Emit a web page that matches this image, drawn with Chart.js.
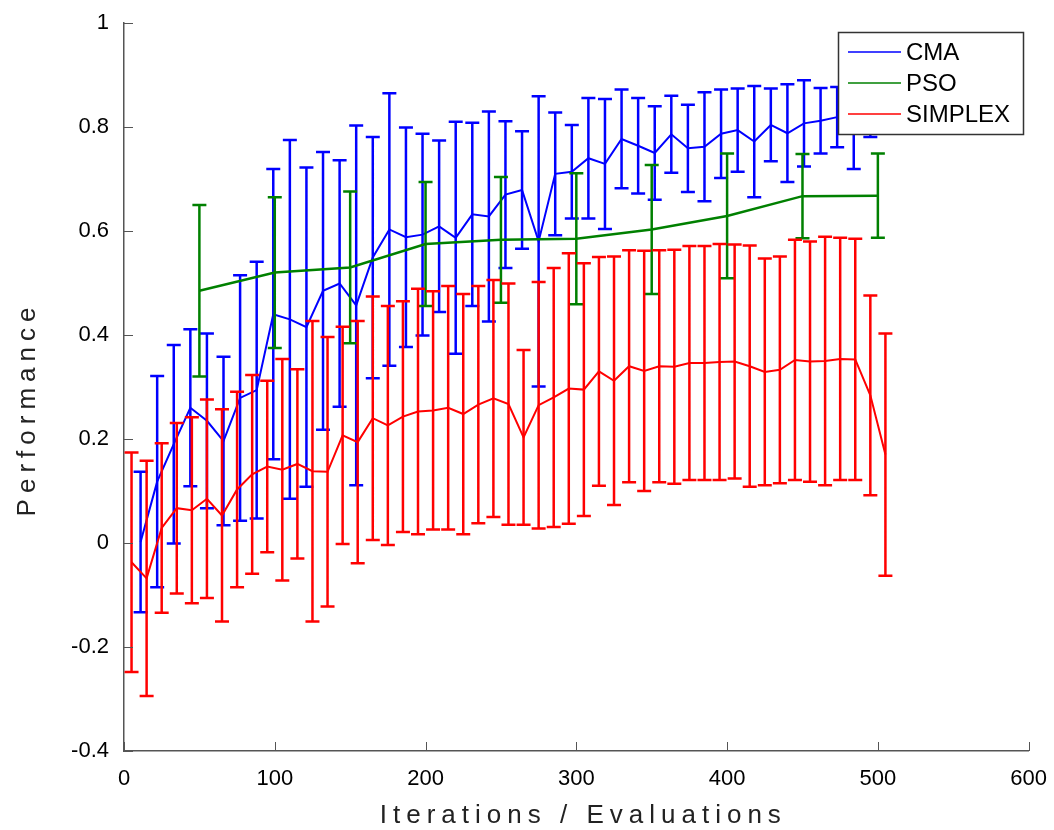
<!DOCTYPE html>
<html>
<head>
<meta charset="utf-8">
<title>Performance</title>
<script src="https://cdn.jsdelivr.net/npm/chart.js@4.4.1/dist/chart.umd.min.js"></script>
<style>
  html, body { margin: 0; padding: 0; background: #fff; }
</style>
</head>
<body>
<canvas id="perf" width="1054" height="830"></canvas>
<script>
/* Data */
const cmaX = [11, 22, 33, 44, 55, 66, 77, 88, 99, 110, 121, 132, 143, 154, 165, 176, 187, 198, 209, 220,
  231, 242, 253, 264, 275, 286, 297, 308, 319, 330, 341, 352, 363, 374, 385, 396, 407, 418, 429, 440,
  451, 462, 473, 484, 495];
const cmaMean = [0.002, 0.118, 0.19, 0.26, 0.235, 0.196, 0.279, 0.294, 0.44, 0.43,
  0.415, 0.485, 0.499, 0.457, 0.549, 0.603, 0.588, 0.593, 0.609, 0.587,
  0.632, 0.628, 0.67, 0.679, 0.58, 0.71, 0.714, 0.74, 0.729, 0.777,
  0.764, 0.75, 0.786, 0.759, 0.762, 0.787, 0.794, 0.772, 0.804, 0.788,
  0.807, 0.812, 0.819, 0.826, 0.835];
const cmaErr = [0.135, 0.203, 0.191, 0.151, 0.168, 0.162, 0.236, 0.247, 0.279, 0.345,
  0.307, 0.267, 0.237, 0.346, 0.232, 0.262, 0.211, 0.194, 0.165, 0.223,
  0.176, 0.202, 0.141, 0.113, 0.279, 0.118, 0.09, 0.116, 0.125, 0.095,
  0.092, 0.09, 0.074, 0.084, 0.105, 0.085, 0.08, 0.107, 0.07, 0.094,
  0.083, 0.063, 0.058, 0.107, 0.054];

const psoX = [50, 100, 150, 200, 250, 300, 350, 400, 450, 500];
const psoMean = [0.485, 0.52, 0.53, 0.575, 0.583, 0.585, 0.603, 0.629, 0.667, 0.668];
const psoErr = [0.165, 0.145, 0.146, 0.119, 0.121, 0.126, 0.124, 0.12, 0.081, 0.081];

const simplexX = [5, 15, 25, 35, 45, 55, 65, 75, 85, 95, 105, 115, 125, 135, 145, 155, 165, 175, 185, 195,
  205, 215, 225, 235, 245, 255, 265, 275, 285, 295, 305, 315, 325, 335, 345, 355, 365, 375, 385, 395,
  405, 415, 425, 435, 445, 455, 465, 475, 485, 495, 505];
const simplexMean = [-0.037, -0.068, 0.029, 0.067, 0.063, 0.085, 0.053, 0.103, 0.132, 0.147,
  0.141, 0.152, 0.138, 0.137, 0.207, 0.194, 0.24, 0.226, 0.243, 0.253,
  0.255, 0.26, 0.248, 0.266, 0.278, 0.267, 0.203, 0.265, 0.28, 0.297,
  0.295, 0.33, 0.312, 0.34, 0.331, 0.34, 0.339, 0.346, 0.346, 0.348,
  0.349, 0.34, 0.329, 0.333, 0.352, 0.349, 0.35, 0.354, 0.353, 0.284, 0.17];
const simplexErr = [0.211, 0.226, 0.163, 0.164, 0.179, 0.191, 0.204, 0.188, 0.191, 0.165,
  0.213, 0.182, 0.289, 0.259, 0.209, 0.233, 0.234, 0.23, 0.222, 0.236,
  0.229, 0.234, 0.231, 0.228, 0.228, 0.232, 0.168, 0.237, 0.249, 0.26,
  0.243, 0.22, 0.239, 0.223, 0.231, 0.223, 0.225, 0.225, 0.225, 0.227,
  0.225, 0.232, 0.218, 0.218, 0.231, 0.231, 0.239, 0.233, 0.232, 0.192, 0.233];

const seriesLabels = ['CMA', 'PSO', 'SIMPLEX'];
const xTitle = 'Iterations / Evaluations';
const yTitle = 'Performance';

/* Styles */
const FONT = '"Liberation Sans", Arial, Helvetica, sans-serif';
const AXIS_COLOR = '#555';

const toPoints = (xs, ys) => xs.map((x, i) => ({ x, y: ys[i] }));

// error bars drawn right after each dataset's own line
const errorBars = {
  id: 'errorBars',
  afterDatasetDraw(chart, args) {
    const ds = chart.data.datasets[args.index];
    if (!ds.errors) return;
    const { ctx, scales: { x, y } } = chart;
    ctx.save();
    ctx.strokeStyle = ds.borderColor;
    ctx.lineWidth = 2.5;
    ctx.beginPath();
    ds.data.forEach((p, i) => {
      const e = ds.errors[i];
      const px = x.getPixelForValue(p.x);
      const top = y.getPixelForValue(p.y + e);
      const bot = y.getPixelForValue(p.y - e);
      ctx.moveTo(px, top);
      ctx.lineTo(px, bot);
      ctx.moveTo(px - 7, top);
      ctx.lineTo(px + 7, top);
      ctx.moveTo(px - 7, bot);
      ctx.lineTo(px + 7, bot);
    });
    ctx.stroke();
    ctx.restore();
  },
};

// matlab style ticks pointing into the plot
const inwardTicks = {
  id: 'inwardTicks',
  afterDraw(chart) {
    const { ctx, chartArea, scales: { x, y } } = chart;
    ctx.save();
    ctx.strokeStyle = AXIS_COLOR;
    ctx.lineWidth = 1;
    ctx.beginPath();
    x.ticks.forEach((t) => {
      const px = Math.round(x.getPixelForValue(t.value)) + 0.5;
      ctx.moveTo(px, chartArea.bottom);
      ctx.lineTo(px, chartArea.bottom - 9);
    });
    y.ticks.forEach((t) => {
      const py = Math.round(y.getPixelForValue(t.value)) + 0.5;
      ctx.moveTo(chartArea.left, py);
      ctx.lineTo(chartArea.left + 9, py);
    });
    ctx.stroke();
    ctx.restore();
  },
};

const axisTitles = {
  id: 'axisTitles',
  afterDraw(chart) {
    const { ctx, chartArea } = chart;
    ctx.save();
    ctx.fillStyle = '#222';
    ctx.font = `26px ${FONT}`;
    ctx.letterSpacing = '6px';
    ctx.textAlign = 'center';
    ctx.textBaseline = 'alphabetic';
    ctx.fillText(xTitle, (chartArea.left + chartArea.right) / 2 + 7, 823);
    ctx.translate(35, 412);
    ctx.rotate(-Math.PI / 2);
    ctx.fillText(yTitle, 3, 0);
    ctx.restore();
  },
};

const boxLegend = {
  id: 'boxLegend',
  afterDraw(chart) {
    const { ctx } = chart;
    const left = 838;
    const top = 32;
    const w = 185;
    const h = 102;
    const rows = [52, 83, 114];
    ctx.save();
    ctx.fillStyle = '#fff';
    ctx.fillRect(left, top, w, h);
    ctx.strokeStyle = '#333';
    ctx.lineWidth = 1.5;
    ctx.strokeRect(left + 0.5, top + 0.5, w, h);
    ctx.font = `24px ${FONT}`;
    ctx.textBaseline = 'middle';
    chart.data.datasets.forEach((ds, i) => {
      ctx.strokeStyle = ds.borderColor;
      ctx.lineWidth = 1.5;
      ctx.beginPath();
      ctx.moveTo(848, rows[i]);
      ctx.lineTo(901, rows[i]);
      ctx.stroke();
      ctx.fillStyle = '#000';
      ctx.fillText(ds.label, 906, rows[i] + 1);
    });
    ctx.restore();
  },
};

const initChart = () => {
  const canvas = document.getElementById('perf');
  return new Chart(canvas, {
    type: 'line',
    data: {
      datasets: [
        {
          label: seriesLabels[0],
          data: toPoints(cmaX, cmaMean),
          errors: cmaErr,
          borderColor: '#0000ff',
          borderWidth: 2,
          order: 3,
        },
        {
          label: seriesLabels[1],
          data: toPoints(psoX, psoMean),
          errors: psoErr,
          borderColor: '#008000',
          borderWidth: 2.5,
          order: 2,
        },
        {
          label: seriesLabels[2],
          data: toPoints(simplexX, simplexMean),
          errors: simplexErr,
          borderColor: '#ff0000',
          borderWidth: 2,
          order: 1,
        },
      ],
    },
    options: {
      responsive: false,
      animation: false,
      events: [],
      clip: false,
      elements: {
        point: { radius: 0 },
        line: { tension: 0, fill: false },
      },
      layout: { padding: { top: 23, right: 22, left: 0, bottom: 0 } },
      plugins: {
        legend: { display: false },
        tooltip: { enabled: false },
      },
      scales: {
        x: {
          type: 'linear',
          min: 0,
          max: 600,
          grid: { display: false },
          border: { display: true, color: AXIS_COLOR, width: 1.5 },
          ticks: {
            stepSize: 100,
            padding: 7,
            color: '#000',
            font: { family: FONT, size: 22 },
            maxRotation: 0,
          },
          afterFit: (scale) => { scale.height = 79; },
        },
        y: {
          min: -0.4,
          max: 1,
          grid: { display: false },
          border: { display: true, color: AXIS_COLOR, width: 1.5 },
          ticks: {
            stepSize: 0.2,
            padding: 7,
            color: '#000',
            font: { family: FONT, size: 22 },
            callback: (v) => String(Math.round(v * 10) / 10),
          },
          afterFit: (scale) => { scale.width = 124; },
        },
      },
    },
    plugins: [errorBars, inwardTicks, axisTitles, boxLegend],
  });
};

initChart();
</script>
</body>
</html>
